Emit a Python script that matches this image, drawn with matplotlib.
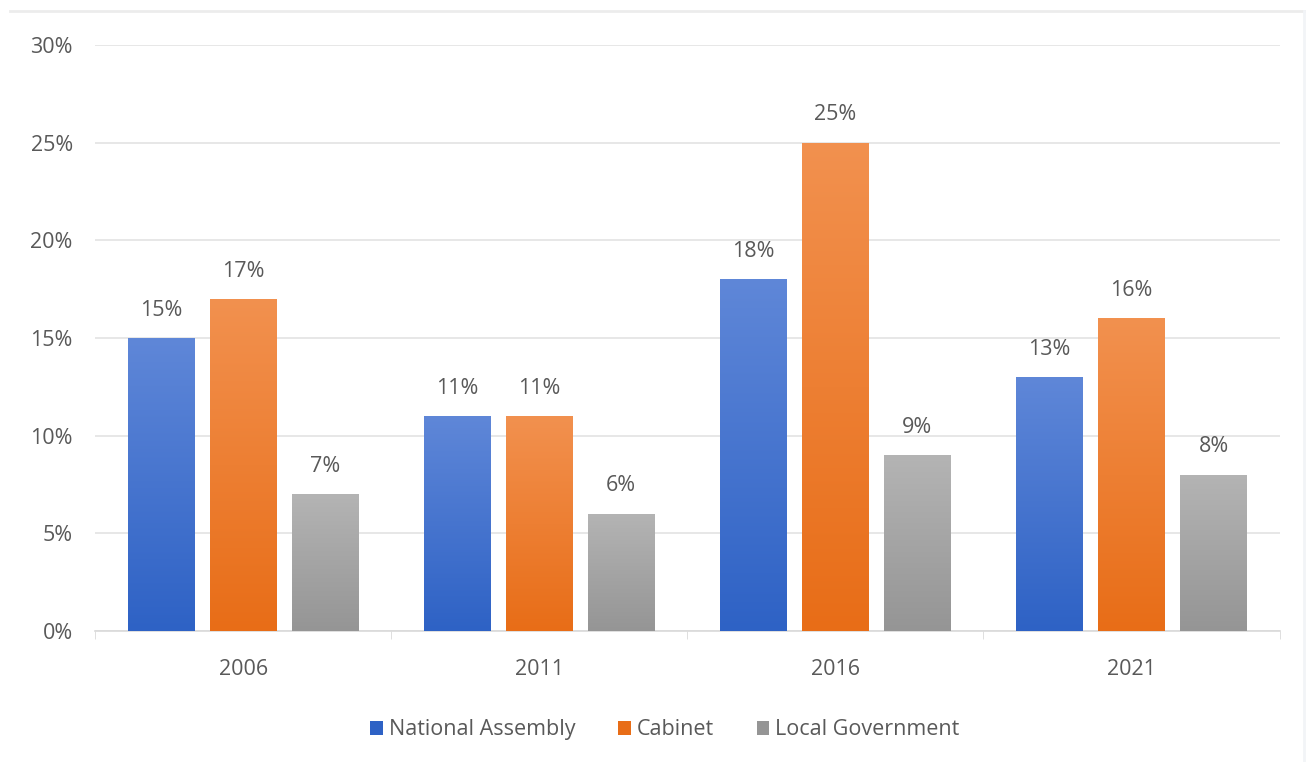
import numpy as np
import matplotlib.pyplot as plt
from matplotlib.colors import LinearSegmentedColormap
from matplotlib.patches import Patch
from matplotlib.ticker import PercentFormatter

years = ['2006', '2011', '2016', '2021']
series = ['National Assembly', 'Cabinet', 'Local Government']
national_assembly = [15, 11, 18, 13]
cabinet = [17, 11, 25, 16]
local_government = [7, 6, 9, 8]

# (top colour, bottom colour) for each series gradient
colors = [('#5f87d8', '#2e62c5'), ('#f2914f', '#e86d17'), ('#b4b4b4', '#959595')]
text_color = '#595959'
fs = 15.5

plt.rcParams['font.family'] = ['Open Sans', 'DejaVu Sans']

fig = plt.figure(figsize=(13.11, 7.62), dpi=100)
ax = fig.add_axes([0.0725, 0.172, 0.9035, 0.769])

x = np.arange(len(years))
width = 0.226
step = 0.277
grad = np.linspace(0, 1, 256).reshape(-1, 1)

for i, (name, vals) in enumerate(zip(series, [national_assembly, cabinet, local_government])):
    vals = np.array(vals) / 100
    bars = ax.bar(x + (i - 1) * step, vals, width, color='none', zorder=3)
    cmap = LinearSegmentedColormap.from_list(name, [colors[i][1], colors[i][0]])
    for b, v in zip(bars, vals):
        x0 = b.get_x()
        im = ax.imshow(grad, cmap=cmap, origin='lower', aspect='auto',
                       extent=[x0, x0 + b.get_width(), 0, v], zorder=3)
        im.set_clip_path(b)
        ax.annotate(f'{v * 100:.0f}%', (x0 + b.get_width() / 2, v), xytext=(0, 20),
                    textcoords='offset points', ha='center', va='center',
                    fontsize=fs, color=text_color)

ax.set_xlim(-0.5, len(years) - 0.5)
ax.set_ylim(0, 0.30)
ax.set_yticks(np.arange(0, 0.31, 0.05))
ax.yaxis.set_major_formatter(PercentFormatter(1.0, decimals=0))
ax.grid(axis='y', color='#e3e3e3', linewidth=1.2, zorder=0)
ax.set_axisbelow(True)

ax.set_xticks(x)
ax.set_xticklabels(years)
ax.set_xticks(np.arange(-0.5, len(years), 1), minor=True)
ax.tick_params(axis='x', which='major', length=0, pad=20, labelsize=fs, labelcolor=text_color)
ax.tick_params(axis='x', which='minor', length=6, color='#d9d9d9')
ax.tick_params(axis='y', length=0, pad=16, labelsize=fs, labelcolor=text_color)

for s in ['top', 'right', 'left']:
    ax.spines[s].set_visible(False)
ax.spines['bottom'].set_color('#d9d9d9')
ax.spines['bottom'].set_linewidth(1.2)

handles = [Patch(facecolor=c[1], edgecolor='none', label=n) for c, n in zip(colors, series)]
fig.legend(handles=handles, loc='center', bbox_to_anchor=(0.507, 0.042), ncol=3,
           frameon=False, fontsize=fs, labelcolor=text_color, handlelength=0.6,
           handleheight=0.6, handletextpad=0.25, columnspacing=2.0)

# faint chart-area border
fig.add_artist(plt.Line2D([0.008, 0.995], [0.985, 0.985], color='#ececec', linewidth=2))
fig.add_artist(plt.Line2D([0.995, 0.995], [0.0, 0.985], color='#f2f4f7', linewidth=2))

fig.savefig('out.png', dpi=100)
